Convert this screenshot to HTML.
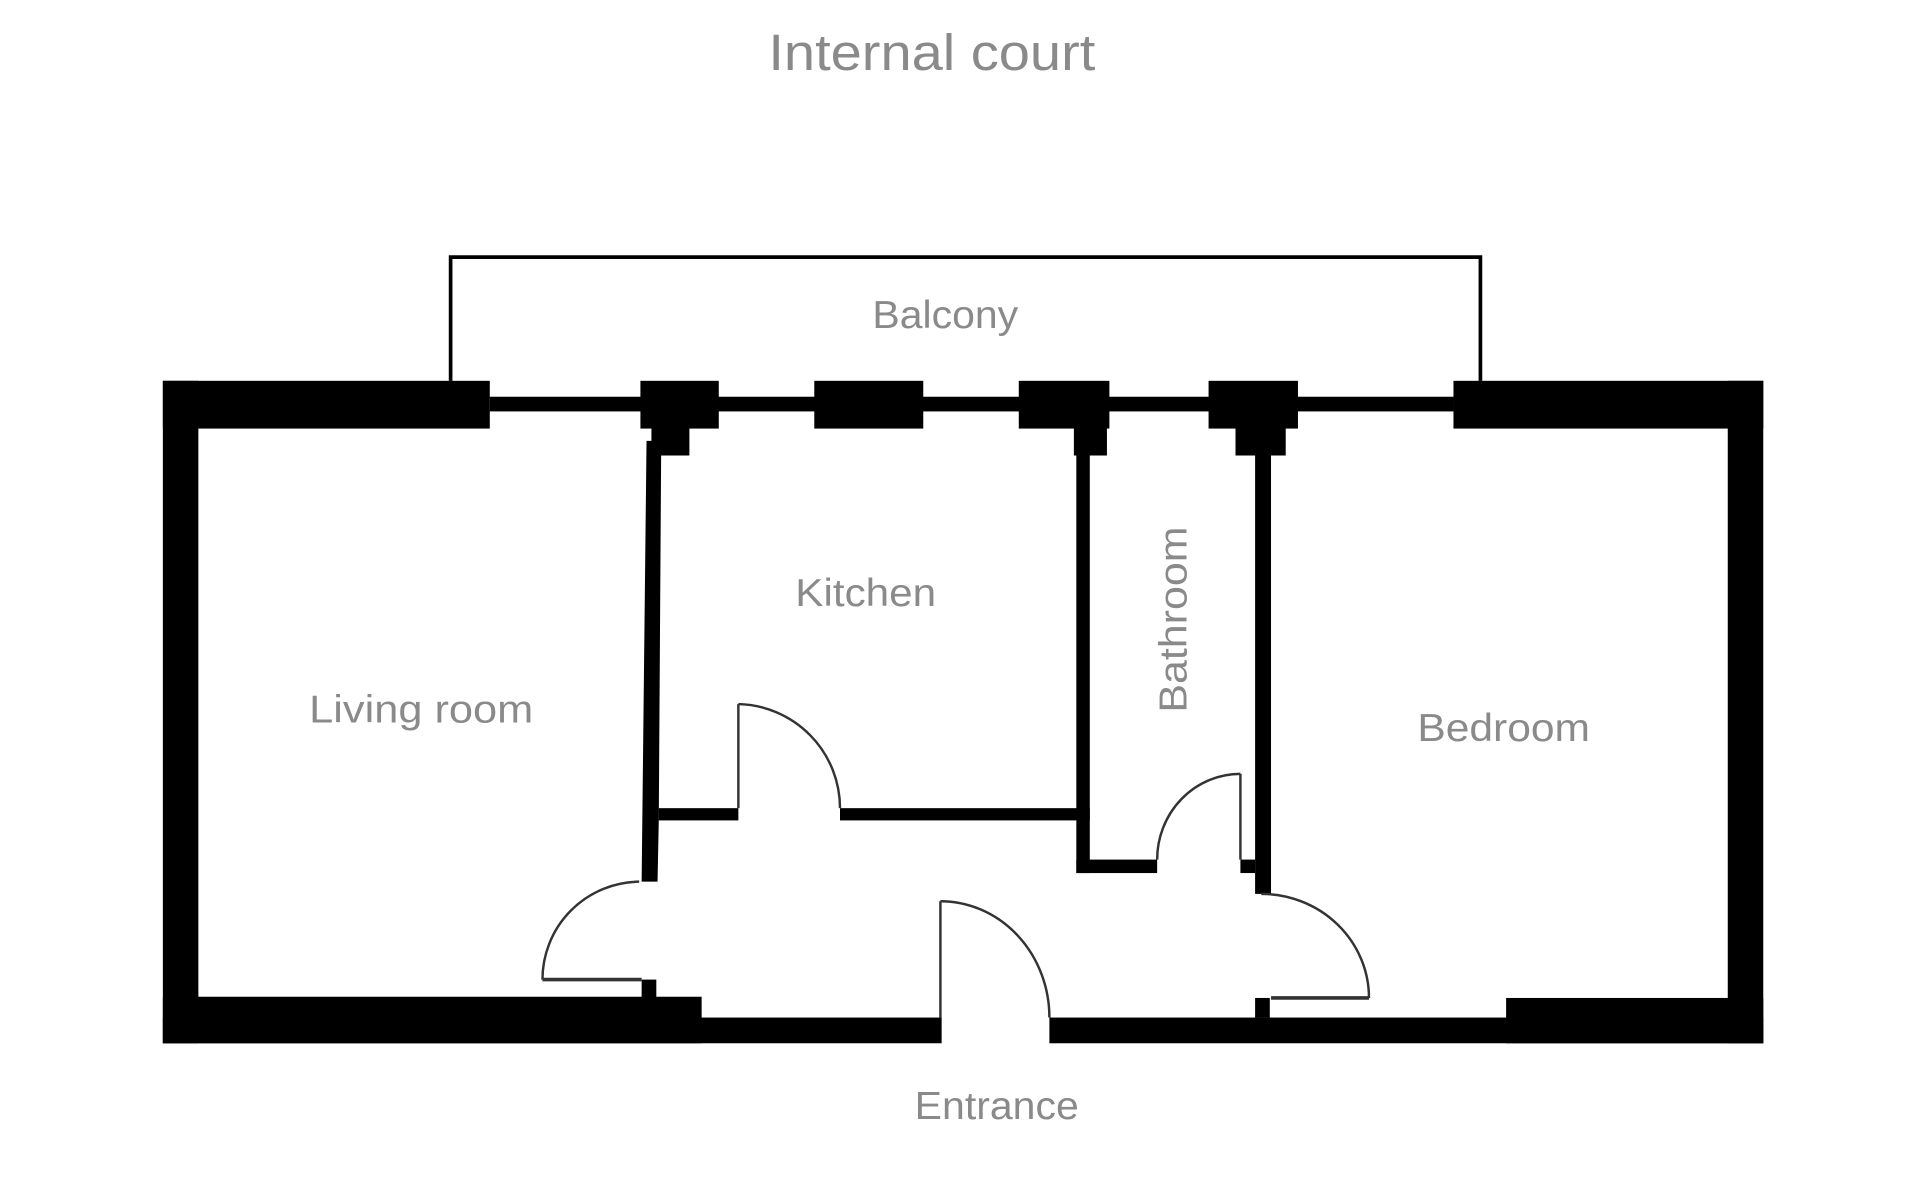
<!DOCTYPE html>
<html><head><meta charset="utf-8"><style>
html,body{margin:0;padding:0;background:#fff;}
svg{display:block;}
text{font-family:"Liberation Sans",sans-serif;fill:#8a8a8a;}
</style></head><body>
<svg width="1920" height="1200" viewBox="0 0 1568 980" preserveAspectRatio="none" xmlns="http://www.w3.org/2000/svg">
<rect width="1568" height="980" fill="#fff"/>
<polyline points="368,311 368,210 1209,210 1209,311" fill="none" stroke="#000" stroke-width="3"/>
<rect x="400" y="324" width="787" height="12" fill="#000"/>
<g fill="#000">
<rect x="133" y="311" width="267" height="39"/>
<rect x="133" y="311" width="29" height="541"/>
<rect x="1187" y="311" width="253" height="39"/>
<rect x="1411" y="311" width="29" height="541"/>
<rect x="133" y="814" width="440" height="38"/>
<rect x="133" y="831" width="636" height="21"/>
<rect x="857" y="831" width="583" height="21"/>
<rect x="1230" y="815" width="210" height="37"/>
<rect x="523" y="311" width="64" height="39"/>
<rect x="532" y="340" width="31" height="32"/>
<rect x="665" y="311" width="89" height="39"/>
<rect x="832" y="311" width="74" height="39"/>
<rect x="877" y="340" width="27" height="32"/>
<rect x="987" y="311" width="73" height="39"/>
<rect x="1009" y="340" width="41" height="32"/>
<polygon points="528,360 540,360 538,670 537,720 524,720"/>
<rect x="538" y="660" width="65" height="10"/>
<rect x="686" y="660" width="204" height="10"/>
<rect x="879" y="360" width="11" height="353"/>
<rect x="879" y="702" width="66" height="11"/>
<rect x="1013" y="702" width="12" height="11"/>
<rect x="1025" y="360" width="13" height="370"/>
<rect x="524" y="800" width="12" height="15"/>
<rect x="1025" y="815" width="12" height="16"/>
</g>
<g fill="none" stroke="#333" stroke-width="2">
<line x1="603" y1="575" x2="603" y2="660"/>
<path d="M603,575 A85,85 0 0 1 686,660"/>
<line x1="1013" y1="632" x2="1013" y2="702"/>
<path d="M1013,632 A68,70 0 0 0 945,702"/>
<line x1="443" y1="800" x2="524" y2="800" stroke-width="3"/>
<path d="M522,720 A80,80 0 0 0 443,800"/>
<line x1="768" y1="736" x2="768" y2="831"/>
<path d="M768,736 A89,95 0 0 1 857,831"/>
<line x1="1038" y1="815" x2="1118" y2="815" stroke-width="3"/>
<path d="M1030,730 A88,85 0 0 1 1118,815"/>
</g>
<text x="761" y="57" font-size="42" text-anchor="middle" textLength="267" lengthAdjust="spacingAndGlyphs">Internal court</text>
<text x="772" y="268" font-size="32" text-anchor="middle" textLength="119" lengthAdjust="spacingAndGlyphs">Balcony</text>
<text x="707" y="495" font-size="32" text-anchor="middle" textLength="115" lengthAdjust="spacingAndGlyphs">Kitchen</text>
<text x="344" y="590" font-size="32" text-anchor="middle" textLength="183" lengthAdjust="spacingAndGlyphs">Living room</text>
<text x="1228" y="605" font-size="32" text-anchor="middle" textLength="141" lengthAdjust="spacingAndGlyphs">Bedroom</text>
<text x="814" y="914" font-size="32" text-anchor="middle" textLength="134" lengthAdjust="spacingAndGlyphs">Entrance</text>
<text transform="translate(969,506) rotate(-90)" x="0" y="0" font-size="32" text-anchor="middle" textLength="152" lengthAdjust="spacingAndGlyphs">Bathroom</text>
</svg>
</body></html>
